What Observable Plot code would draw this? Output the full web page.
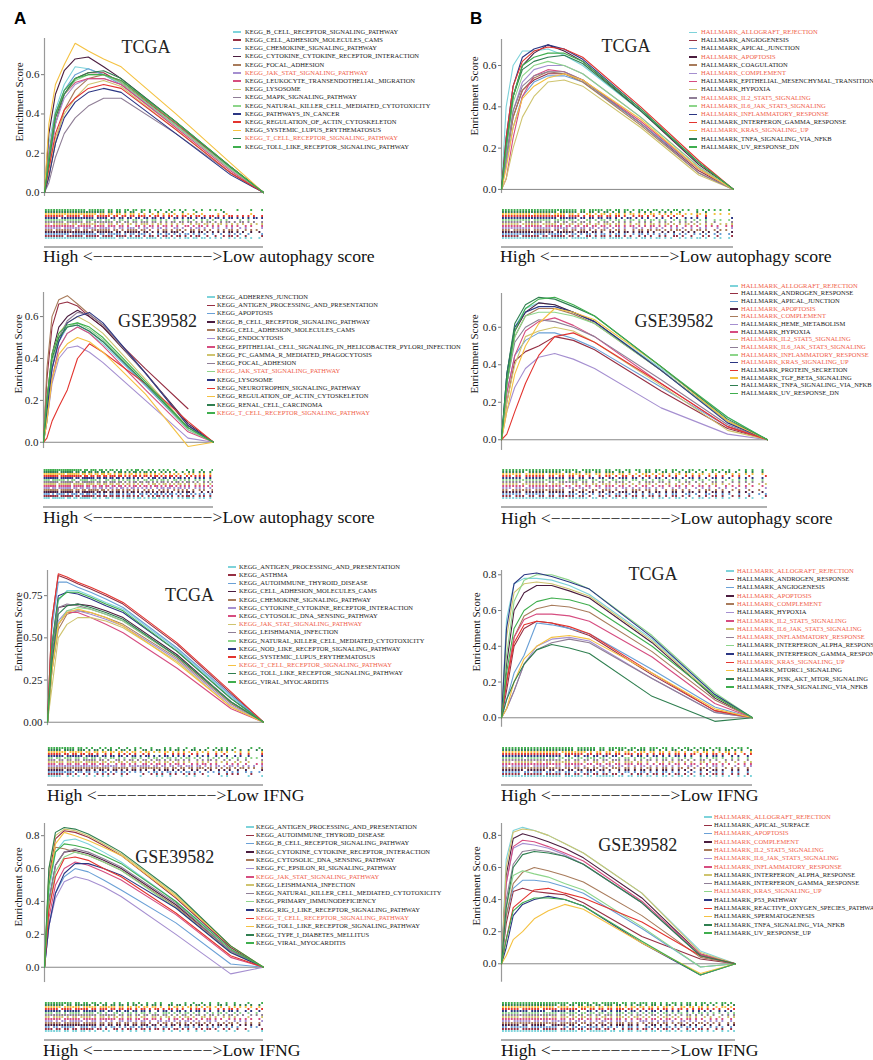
<!DOCTYPE html>
<html><head><meta charset="utf-8">
<script src="https://cdn.jsdelivr.net/npm/d3@7"></script>
<script src="https://cdn.jsdelivr.net/npm/@observablehq/plot@0.6"></script>
<style>
body{margin:0;background:#fff;}
#root{position:relative;width:873px;height:1060px;overflow:hidden;background:#fff;font-family:"Liberation Serif","Times New Roman",serif;color:#1a1a1a;}
.abs{position:absolute;white-space:nowrap;line-height:1;font-family:"Liberation Serif","Times New Roman",serif;}
</style></head><body><div id="root"></div>
<script>
// ---------- shared ----------
const xGrid = [0, .02, .05, .09, .14, .2, .27, .35, .6, .85, 1];
const colors = ["#7ED3DA","#962F43","#6AA0D6","#4B1D3F","#A87B5B","#A58FD0","#D64D80","#CFC46F","#8F7E96","#8DD58A","#2B3683","#E3342F","#F5C242","#2F7F50","#3FAE4E"];
const ticksA = [0, 0.2, 0.4, 0.6];
const ticksIfngKegg = [0, 0.25, 0.5, 0.75];
const ticksHigh = [0, 0.2, 0.4, 0.6, 0.8];
const axisLabel = "Enrichment Score";
const xLabelAuto = "High <−−−−−−−−−−−−>Low autophagy score";
const xLabelIfng = "High <−−−−−−−−−−−−>Low IFNG";
const serif = "'Liberation Serif', 'Times New Roman', serif";

// ---------- A1: TCGA KEGG autophagy ----------
const namesA1 = ["KEGG_B_CELL_RECEPTOR_SIGNALING_PATHWAY","KEGG_CELL_ADHESION_MOLECULES_CAMS","KEGG_CHEMOKINE_SIGNALING_PATHWAY","KEGG_CYTOKINE_CYTOKINE_RECEPTOR_INTERACTION","KEGG_FOCAL_ADHESION","KEGG_JAK_STAT_SIGNALING_PATHWAY","KEGG_LEUKOCYTE_TRANSENDOTHELIAL_MIGRATION","KEGG_LYSOSOME","KEGG_MAPK_SIGNALING_PATHWAY","KEGG_NATURAL_KILLER_CELL_MEDIATED_CYTOTOXICITY","KEGG_PATHWAYS_IN_CANCER","KEGG_REGULATION_OF_ACTIN_CYTOSKELETON","KEGG_SYSTEMIC_LUPUS_ERYTHEMATOSUS","KEGG_T_CELL_RECEPTOR_SIGNALING_PATHWAY","KEGG_TOLL_LIKE_RECEPTOR_SIGNALING_PATHWAY"];
const redA1 = [6, 14];
const esA1 = [
 [0,.25,.42,.55,.64,.63,.6,.56,.34,.12,0],
 [0,.15,.35,.5,.58,.61,.61,.56,.35,.13,0],
 [0,.2,.4,.52,.6,.63,.6,.55,.34,.12,0],
 [0,.3,.5,.62,.68,.69,.64,.58,.36,.13,0],
 [0,.08,.25,.42,.52,.58,.6,.57,.35,.12,0],
 [0,.15,.35,.48,.55,.58,.58,.55,.34,.12,0],
 [0,.2,.4,.5,.56,.58,.58,.55,.33,.11,0],
 [0,.12,.28,.4,.48,.55,.57,.54,.32,.1,0],
 [0,.05,.18,.3,.38,.44,.48,.48,.3,.1,0],
 [0,.18,.38,.5,.57,.6,.6,.56,.34,.12,0],
 [0,.08,.25,.38,.46,.51,.53,.51,.3,.09,0],
 [0,.12,.3,.42,.48,.53,.55,.53,.32,.1,0],
 [0,.35,.55,.65,.76,.72,.68,.64,.4,.15,0],
 [0,.15,.38,.5,.58,.61,.62,.58,.36,.13,0],
 [0,.18,.4,.52,.58,.6,.6,.57,.36,.13,0]];
const hitsA1 = ["FFFFEFDBF7AD5B6A9552","FEFDF7BD6B5AD5925A41","FFBFEDF5BA6D5AA49521","FFFFDFB7ED5BA6D55A92","EFDB7F6BDA5AD6A95A54","FDFBEF5BAD69A5A52941","FFEFBDDA6B5A9AD52A51","DFB7EDAB5D6AA5B5AA95","FEFDBFB6DDAB6D5AB5A9","FFFDEB5AD5A92A54A120","FBFFDEDB6DB5AD6B5AAD","FEFBDF6DBAD6B5AD5AA9","FFFFEDB5A9552A412010","FFFFFDB5924A21004000","FFFEFDB6DAA5524A8211"];

// ---------- B1: TCGA HALLMARK autophagy ----------
const namesB1 = ["HALLMARK_ALLOGRAFT_REJECTION","HALLMARK_ANGIOGENESIS","HALLMARK_APICAL_JUNCTION","HALLMARK_APOPTOSIS","HALLMARK_COAGULATION","HALLMARK_COMPLEMENT","HALLMARK_EPITHELIAL_MESENCHYMAL_TRANSITION","HALLMARK_HYPOXIA","HALLMARK_IL2_STAT5_SIGNALING","HALLMARK_IL6_JAK_STAT3_SIGNALING","HALLMARK_INFLAMMATORY_RESPONSE","HALLMARK_INTERFERON_GAMMA_RESPONSE","HALLMARK_KRAS_SIGNALING_UP","HALLMARK_TNFA_SIGNALING_VIA_NFKB","HALLMARK_UV_RESPONSE_DN"];
const redB1 = [1, 4, 6, 9, 10, 11, 13];
const esB1 = [
 [0,.4,.6,.67,.67,.68,.65,.6,.38,.13,0],
 [0,.15,.35,.48,.53,.56,.56,.53,.32,.09,0],
 [0,.12,.3,.45,.52,.55,.55,.52,.32,.1,0],
 [0,.2,.45,.6,.66,.7,.67,.62,.38,.12,0],
 [0,.15,.35,.48,.54,.57,.56,.52,.31,.08,0],
 [0,.15,.38,.52,.58,.6,.6,.56,.35,.11,0],
 [0,.05,.25,.45,.55,.58,.57,.53,.33,.1,0],
 [0,.05,.2,.35,.45,.52,.53,.5,.3,.07,0],
 [0,.15,.38,.5,.55,.57,.57,.53,.32,.08,0],
 [0,.2,.42,.55,.6,.62,.6,.56,.35,.11,0],
 [0,.25,.5,.64,.68,.7,.68,.63,.39,.13,0],
 [0,.25,.5,.62,.67,.69,.68,.64,.4,.14,0],
 [0,.1,.3,.44,.5,.54,.56,.53,.34,.1,0],
 [0,.22,.45,.58,.62,.64,.65,.61,.38,.13,0],
 [0,.2,.45,.6,.64,.66,.66,.62,.39,.13,0]];
const hitsB1 = ["FFFFFEFDB7DAD6A55A52","FDFB7DA6B5A9529A4521","FFDEFAD6B5A5AA952A52","FFFFDFBDA6B5A952A521","EFDFB6DAB5A5B6AD5A54","FFDFBEDB5AA6952A4A21","FEFDFB6DB5AD5AA952A5","FDFBEDB6DDAB5AD5AA95","FEFDB6DA5AA952A55241","FFDFBDA6B5AD5A952A52","FFFFEFDB6D5AA5295201","FFFFFDEB6DA5A9521200","FFDFBDA6B5AD5AAD5A52","FFFFEFDB5AA952A41200","FFFFFFDBEDB5AD5A9552"];

// ---------- A2: GSE39582 KEGG autophagy ----------
const namesA2 = ["KEGG_ADHERENS_JUNCTION","KEGG_ANTIGEN_PROCESSING_AND_PRESENTATION","KEGG_APOPTOSIS","KEGG_B_CELL_RECEPTOR_SIGNALING_PATHWAY","KEGG_CELL_ADHESION_MOLECULES_CAMS","KEGG_ENDOCYTOSIS","KEGG_EPITHELIAL_CELL_SIGNALING_IN_HELICOBACTER_PYLORI_INFECTION","KEGG_FC_GAMMA_R_MEDIATED_PHAGOCYTOSIS","KEGG_FOCAL_ADHESION","KEGG_JAK_STAT_SIGNALING_PATHWAY","KEGG_LYSOSOME","KEGG_NEUROTROPHIN_SIGNALING_PATHWAY","KEGG_REGULATION_OF_ACTIN_CYTOSKELETON","KEGG_RENAL_CELL_CARCINOMA","KEGG_T_CELL_RECEPTOR_SIGNALING_PATHWAY"];
const redA2 = [10, 15];
const esA2 = [
 [0,.1,.3,.45,.52,.55,.52,.47,.27,.07,0],
 [0,.3,.55,.66,.67,.65,.6,.55,.35,.16,null],
 [0,.15,.35,.48,.55,.56,.53,.48,.27,.06,0],
 [0,.2,.42,.55,.6,.63,.6,.55,.33,.09,0],
 [0,.35,.6,.68,.7,.66,.61,.56,.33,.08,0],
 [0,.1,.28,.4,.45,.46,.43,.38,.2,.02,0],
 [0,.12,.3,.45,.52,.55,.52,.46,.25,.05,0],
 [0,.2,.42,.52,.57,.6,.57,.52,.3,.07,0],
 [0,.1,.35,.5,.58,.62,.61,.56,.33,.08,0],
 [0,.15,.38,.5,.55,.57,.54,.49,.28,.06,0],
 [0,.15,.35,.48,.57,.6,.62,.57,.33,.08,0],
 [0,.02,.1,.17,.25,.4,.47,.43,.28,.1,0],
 [0,.1,.3,.42,.47,.5,.48,.43,.23,-.02,0],
 [0,.2,.4,.5,.55,.56,.53,.48,.28,.07,0],
 [0,.2,.42,.52,.56,.57,.55,.5,.29,.07,0]];
const hitsA2 = ["EFDB7DA6B5AD5AA95A52","FEFDBF6DB5AA56A95A52","EBD76DA9B5A6AD5A9552","FEFDBF6DB56AD5A95A25","FEFDB7DAB5A952A55251","EDFB6DB5AD6AA5B5A952","FDFBEDB6DAB5AD5AA955","FDFBEF6DB5AA5AD5A952","FEFDBF6DDAB6D5AB5A95","EFD67BA6D5A9B5A6A952","FEFDBF6DB5AA5AD5A952","FEFFDB6DDAB5AD5A9552","FFDFB6DB5AD5AA952A52","FEFDB6DA5AB5A9524A52","FFFFDBB5A95A52A41221"];

// ---------- B2: GSE39582 HALLMARK autophagy ----------
const namesB2 = ["HALLMARK_ALLOGRAFT_REJECTION","HALLMARK_ANDROGEN_RESPONSE","HALLMARK_APICAL_JUNCTION","HALLMARK_APOPTOSIS","HALLMARK_COMPLEMENT","HALLMARK_HEME_METABOLISM","HALLMARK_HYPOXIA","HALLMARK_IL2_STAT5_SIGNALING","HALLMARK_IL6_JAK_STAT3_SIGNALING","HALLMARK_INFLAMMATORY_RESPONSE","HALLMARK_KRAS_SIGNALING_UP","HALLMARK_PROTEIN_SECRETION","HALLMARK_TGF_BETA_SIGNALING","HALLMARK_TNFA_SIGNALING_VIA_NFKB","HALLMARK_UV_RESPONSE_DN"];
const redB2 = [1, 4, 5, 8, 9, 10, 11];
const esB2 = [
 [0,.35,.6,.7,.73,.72,.68,.63,.38,.12,0],
 [0,.2,.42,.47,.5,.55,.53,.48,.26,.06,0],
 [0,.25,.45,.53,.57,.57,.54,.49,.28,.07,0],
 [0,.3,.58,.68,.73,.72,.68,.63,.37,.1,0],
 [0,.3,.55,.66,.7,.7,.67,.62,.37,.1,0],
 [0,.15,.28,.38,.44,.46,.43,.38,.17,.03,0],
 [0,.25,.45,.58,.63,.65,.61,.55,.3,.07,0],
 [0,.2,.4,.55,.58,.6,.58,.52,.29,.05,0],
 [0,.3,.52,.6,.64,.63,.6,.55,.32,.08,0],
 [0,.3,.55,.66,.68,.68,.66,.62,.37,.1,0],
 [0,.35,.6,.68,.71,.71,.68,.63,.37,.09,0],
 [0,.03,.15,.3,.45,.55,.57,.52,.3,.07,0],
 [0,.15,.35,.5,.62,.7,.68,.64,.39,.1,0],
 [0,.35,.62,.72,.76,.75,.71,.66,.39,.11,0],
 [0,.3,.58,.7,.75,.76,.72,.66,.39,.12,0]];
const hitsB2 = ["FFFFEFDB6DB5AD5AA952","EEDB7DA6B5AD5A95A521","FDFB6ED5B6AD59A6A925","FDFBEDB6DDAB5AD5A952","DFBFE6DBA5DA5A96A524","EDFB6DA5AD5A952A5241","FEFFDB6DDAB5AD5A9552","FBFDE6DBAD5A6A95A925","FDFB7ED6BA5DA5A9A552","FFFFEFDB6DB5AD5A9552","FDFBEDB6DDAB5AD5A952","EDFB6DA5AD5AA952A521","FDFBEF6DDAB5AD5A9552","FEFFDB6DDA5AD5A95A52","FFFFFEFDB6DB5AD5A952"];

// ---------- A3: TCGA KEGG IFNG ----------
const namesA3 = ["KEGG_ANTIGEN_PROCESSING_AND_PRESENTATION","KEGG_ASTHMA","KEGG_AUTOIMMUNE_THYROID_DISEASE","KEGG_CELL_ADHESION_MOLECULES_CAMS","KEGG_CHEMOKINE_SIGNALING_PATHWAY","KEGG_CYTOKINE_CYTOKINE_RECEPTOR_INTERACTION","KEGG_CYTOSOLIC_DNA_SENSING_PATHWAY","KEGG_JAK_STAT_SIGNALING_PATHWAY","KEGG_LEISHMANIA_INFECTION","KEGG_NATURAL_KILLER_CELL_MEDIATED_CYTOTOXICITY","KEGG_NOD_LIKE_RECEPTOR_SIGNALING_PATHWAY","KEGG_SYSTEMIC_LUPUS_ERYTHEMATOSUS","KEGG_T_CELL_RECEPTOR_SIGNALING_PATHWAY","KEGG_TOLL_LIKE_RECEPTOR_SIGNALING_PATHWAY","KEGG_VIRAL_MYOCARDITIS"];
const redA3 = [8, 13];
const esA3 = [
 [0,.45,.72,.78,.78,.75,.71,.67,.43,.15,0],
 [0,.6,.87,.85,.82,.79,.75,.7,.46,.17,0],
 [0,.55,.83,.83,.8,.77,.73,.68,.44,.16,0],
 [0,.4,.68,.69,.7,.69,.66,.62,.4,.12,0],
 [0,.3,.55,.64,.66,.65,.62,.58,.38,.11,0],
 [0,.35,.6,.66,.66,.64,.61,.57,.37,.1,0],
 [0,.3,.58,.65,.65,.62,.58,.53,.32,.08,0],
 [0,.2,.5,.58,.62,.62,.6,.56,.36,.09,0],
 [0,.4,.68,.7,.69,.67,.64,.6,.39,.12,0],
 [0,.3,.58,.66,.68,.67,.64,.6,.39,.12,0],
 [0,.45,.75,.77,.76,.73,.69,.65,.42,.14,0],
 [0,.6,.88,.86,.83,.8,.76,.71,.47,.18,0],
 [0,.3,.58,.65,.67,.65,.62,.57,.35,.09,0],
 [0,.35,.64,.69,.7,.68,.65,.61,.39,.12,0],
 [0,.45,.73,.77,.77,.74,.7,.66,.42,.14,0]];
const hitsA3 = ["F9524A1020A41210A021","FDA52A9412A52A412A10","FFDB6D5AA5AD5A952A52","FDBB5AD5A95AA5295241","FFFFFEFDBFDB6DDAB5A9","FFFFEFDBFDB6DDAB5AA9","EDB6DA5A9AD5A56A2A45","FDFBEDB5AD5AA952A521","EDB7DA6B5AD5A95A5241","DBB6D5A9A5AD5A952A54","FDFBEDB5AD5AA952A521","FB6DA52A9412A5124121","FEFB6DB5AD5AA952A521","FBDD6B5A9AD5A6A5A925","FFDA9524A2149212A412"];

// ---------- B3: TCGA HALLMARK IFNG ----------
const namesB3 = ["HALLMARK_ALLOGRAFT_REJECTION","HALLMARK_ANDROGEN_RESPONSE","HALLMARK_ANGIOGENESIS","HALLMARK_APOPTOSIS","HALLMARK_COMPLEMENT","HALLMARK_HYPOXIA","HALLMARK_IL2_STAT5_SIGNALING","HALLMARK_IL6_JAK_STAT3_SIGNALING","HALLMARK_INFLAMMATORY_RESPONSE","HALLMARK_INTERFERON_ALPHA_RESPONSE","HALLMARK_INTERFERON_GAMMA_RESPONSE","HALLMARK_KRAS_SIGNALING_UP","HALLMARK_MTORC1_SIGNALING","HALLMARK_PI3K_AKT_MTOR_SIGNALING","HALLMARK_TNFA_SIGNALING_VIA_NFKB"];
const redB3 = [1, 4, 5, 7, 8, 9, 12];
const esB3 = [
 [0,.55,.75,.78,.78,.77,.74,.69,.44,.13,0],
 [0,.15,.4,.5,.54,.53,.5,.46,.24,.04,0],
 [0,.1,.25,.35,.53,.52,.5,.47,.27,.06,0],
 [0,.3,.6,.7,.74,.74,.71,.67,.42,.11,0],
 [0,.2,.45,.57,.61,.63,.62,.59,.37,.1,0],
 [0,.05,.15,.3,.4,.44,.45,.43,.22,.03,0],
 [0,.2,.45,.55,.58,.58,.57,.54,.34,.08,0],
 [0,.45,.7,.75,.76,.75,.72,.68,.43,.12,0],
 [0,.05,.15,.3,.38,.42,.44,.42,.22,.03,0],
 [0,.35,.65,.77,.8,.8,.77,.72,.46,.14,0],
 [0,.5,.75,.8,.81,.79,.76,.72,.45,.13,0],
 [0,.2,.42,.52,.54,.53,.51,.47,.25,.04,0],
 [0,.05,.2,.33,.4,.45,.46,.44,.25,.05,0],
 [0,.1,.2,.3,.38,.41,.39,.36,.12,-.02,0],
 [0,.25,.5,.6,.65,.67,.66,.63,.4,.12,0]];
const hitsB3 = ["FFFFEFDBF6DB5AD5AA95","FDFBEDB6DA5AD5A95A52","FDBB6D5AA5AD5A952A52","FEFDB6DDA5AD5AA95A52","FFFFEDB6DDAB5AD5A952","DFBE6DA5B6AD5A9A5A25","FFFFEFDB6DDAB5AD5A95","EFDB7DA6B5DA56A9A525","FFFFEDB6DDAB5AD5A952","FEFDB6DDA5AD5AA95A52","FFFFEDB6DA5AD5A95A52","FFFFEFDB6DDAB5AD5AA5","FFFFDFEB6DADB5A6D5A9","FFFFFEFDB6DDAB5AD5A9","FFFFFEFDBF6DDAB5AD5A"];

// ---------- A4: GSE39582 KEGG IFNG ----------
const namesA4 = ["KEGG_ANTIGEN_PROCESSING_AND_PRESENTATION","KEGG_AUTOIMMUNE_THYROID_DISEASE","KEGG_B_CELL_RECEPTOR_SIGNALING_PATHWAY","KEGG_CYTOKINE_CYTOKINE_RECEPTOR_INTERACTION","KEGG_CYTOSOLIC_DNA_SENSING_PATHWAY","KEGG_FC_EPSILON_RI_SIGNALING_PATHWAY","KEGG_JAK_STAT_SIGNALING_PATHWAY","KEGG_LEISHMANIA_INFECTION","KEGG_NATURAL_KILLER_CELL_MEDIATED_CYTOTOXICITY","KEGG_PRIMARY_IMMUNODEFICIENCY","KEGG_RIG_I_LIKE_RECEPTOR_SIGNALING_PATHWAY","KEGG_T_CELL_RECEPTOR_SIGNALING_PATHWAY","KEGG_TOLL_LIKE_RECEPTOR_SIGNALING_PATHWAY","KEGG_TYPE_I_DIABETES_MELLITUS","KEGG_VIRAL_MYOCARDITIS"];
const redA4 = [7, 12];
const esA4 = [
 [0,.45,.7,.77,.78,.75,.7,.64,.4,.12,0],
 [0,.55,.78,.83,.82,.79,.74,.68,.42,.12,0],
 [0,.25,.45,.55,.6,.58,.53,.47,.27,.02,0],
 [0,.4,.62,.7,.71,.69,.65,.6,.38,.1,0],
 [0,.55,.73,.72,.7,.68,.64,.59,.37,.1,0],
 [0,.25,.42,.52,.55,.53,.49,.43,.2,-.04,0],
 [0,.3,.5,.6,.64,.62,.58,.53,.32,.06,0],
 [0,.6,.8,.84,.83,.8,.75,.69,.44,.13,0],
 [0,.4,.62,.7,.72,.7,.66,.61,.39,.1,0],
 [0,.35,.58,.67,.7,.68,.64,.59,.36,.09,0],
 [0,.25,.45,.57,.63,.63,.6,.56,.36,.09,0],
 [0,.35,.55,.66,.67,.65,.6,.55,.33,.07,0],
 [0,.5,.75,.82,.8,.77,.73,.68,.43,.13,0],
 [0,.6,.82,.85,.84,.81,.76,.7,.45,.13,0],
 [0,.5,.7,.75,.74,.72,.68,.63,.4,.11,0]];
const hitsA4 = ["FDB6A5294A1249212421","EDB7DA6B5AD5A95A5241","DBE76AD5B69A5A952A14","FFFFEDB6DDAB5AD5A952","FDFBEDB6DA5AD5A95A52","EB7D6A9B5A6D5A9A2541","FDFBEFDB6DA5AD5A9552","DEB7AD6B59AD5A6A5421","FFFFEFDB6DDAB5AD5A95","ED7BDA6B5A9D5A95A524","FDFBEDB6DA5AD5A95A52","FBDF6EDB5AD6A5A95A25","FDFBEFDB6DA5AD5A9552","FEDFB6DAD5A6D5A9A552","FFDB6A52A4A212492421"];

// ---------- B4: GSE39582 HALLMARK IFNG ----------
const namesB4 = ["HALLMARK_ALLOGRAFT_REJECTION","HALLMARK_APICAL_SURFACE","HALLMARK_APOPTOSIS","HALLMARK_COMPLEMENT","HALLMARK_IL2_STAT5_SIGNALING","HALLMARK_IL6_JAK_STAT3_SIGNALING","HALLMARK_INFLAMMATORY_RESPONSE","HALLMARK_INTERFERON_ALPHA_RESPONSE","HALLMARK_INTERFERON_GAMMA_RESPONSE","HALLMARK_KRAS_SIGNALING_UP","HALLMARK_P53_PATHWAY","HALLMARK_REACTIVE_OXYGEN_SPECIES_PATHWAY","HALLMARK_SPERMATOGENESIS","HALLMARK_TNFA_SIGNALING_VIA_NFKB","HALLMARK_UV_RESPONSE_UP"];
const redB4 = [1, 3, 4, 5, 6, 7, 10];
const esB4 = [
 [0,.65,.83,.85,.83,.8,.75,.69,.44,.08,0],
 [0,.25,.45,.47,.45,.44,.43,.38,.17,.03,0],
 [0,.3,.47,.52,.52,.51,.48,.44,.22,-.02,0],
 [0,.55,.78,.81,.79,.76,.72,.66,.41,.06,0],
 [0,.3,.5,.57,.6,.58,.55,.51,.3,.04,0],
 [0,.5,.72,.75,.74,.72,.68,.62,.38,.05,0],
 [0,.5,.73,.77,.76,.73,.69,.64,.39,.06,0],
 [0,.6,.82,.84,.83,.8,.75,.69,.44,.07,0],
 [0,.4,.62,.7,.71,.7,.67,.62,.38,.05,0],
 [0,.35,.55,.58,.56,.54,.5,.46,.23,-.02,0],
 [0,.1,.3,.37,.4,.42,.4,.36,.13,-.07,0],
 [0,.15,.35,.4,.46,.47,.44,.41,.26,.05,0],
 [0,.05,.15,.2,.28,.33,.37,.34,.13,-.06,0],
 [0,.35,.6,.68,.7,.69,.67,.62,.38,.05,0],
 [0,.15,.33,.38,.41,.41,.4,.36,.14,-.07,0]];
const hitsB4 = ["FFFFEFDBF6DB5AD5AA95","FDFBEDB6DA5AD5A95A52","DFBFE6DBAD5A6AD5A952","FDBE7DA6B5DA5A96A525","FFFFEFDB6DDAB5AD5AA5","EFDB7D6AB5A9D5A6A552","FFFFEDB6DDAB5AD5A952","FDFB6EDAB5D6A5A9A525","FFFFEDB6DDAB5AD5AA95","FDFBEFDB6DDAB5AD5AA5","DFBE7DA6B5AD5AA9552A","FDFBEFDB6DDAB5AD5AA5","FFFFDEBF6DADB5A6DA5A","FFFFEDB6DDAB5AD5AA95","FFFFFEFDBF6DDAB5AD5A"];

// ---------- layout ----------
const root = document.getElementById("root");
function addDiv(text, css) {
  const d = document.createElement("div");
  d.className = "abs";
  d.textContent = text;
  Object.assign(d.style, css);
  root.appendChild(d);
  return d;
}

function drawPanel(p) {
  const ml = 40, mr = 4, mt = 4, mb = 4;
  const pw = p.right - p.axisX;
  const topPx = p.y0 - p.yTop * p.unit, botPx = p.y0 - p.yBot * p.unit;
  const ph = botPx - topPx;
  const data = [];
  p.es.forEach((vals, s) => vals.forEach((v, j) => data.push({x: xGrid[j], y: v, s})));
  const chart = Plot.plot({
    width: ml + pw + mr, height: mt + ph + mb,
    marginLeft: ml, marginRight: mr, marginTop: mt, marginBottom: mb,
    x: {domain: [0, 1], axis: null},
    y: {domain: [p.yBot, p.yTop], axis: null},
    color: {type: "identity"},
    style: {background: "transparent", fontFamily: serif, fontSize: "11px", color: "#1a1a1a", overflow: "visible"},
    marks: [
      Plot.axisY({ticks: p.ticks, tickFormat: d3.format(p.fmt), tickSize: 3, tickPadding: 2, label: null, stroke: "#777", fontSize: 11, fontFamily: serif}),
      Plot.ruleX([0], {y1: p.yBot, y2: p.yTop, stroke: "#999", strokeWidth: 1.2}),
      Plot.ruleY([0], {x1: 0, x2: 1, stroke: "#888", strokeWidth: 1}),
      Plot.line(data, {x: "x", y: "y", z: "s", stroke: d => colors[d.s], strokeWidth: 1.1})
    ]
  });
  Object.assign(chart.style, {position: "absolute", left: (p.axisX - ml) + "px", top: (topPx - mt) + "px"});
  root.appendChild(chart);

  // rug: each hex digit marks 4 adjacent slots of 80 across the ranked list
  const rug = [];
  p.hits.forEach((str, s) => [...str].forEach((c, b) => {
    const v = parseInt(c, 16);
    for (let i = 0; i < 4; i++) if (v & (8 >> i)) rug.push({x: (b * 4 + i + 0.5) / (str.length * 4), s});
  }));
  const rugH = p.rugBot - p.rugTop;
  const rugPlot = Plot.plot({
    width: pw, height: rugH, margin: 0,
    x: {domain: [0, 1], axis: null},
    y: {type: "band", domain: d3.range(14, -1, -1), axis: null, padding: 0},
    color: {type: "identity"},
    style: {background: "transparent"},
    marks: [Plot.tickX(rug, {x: "x", y: "s", stroke: d => colors[d.s], strokeWidth: 1.9})]
  });
  Object.assign(rugPlot.style, {position: "absolute", left: p.axisX + "px", top: p.rugTop + "px"});
  root.appendChild(rugPlot);
  const base = document.createElement("div");
  Object.assign(base.style, {position: "absolute", left: p.axisX + "px", top: p.rugBot + "px", width: pw + "px", height: "2px", background: "#b0b0b0"});
  root.appendChild(base);

  // texts
  addDiv(p.title, {left: p.titleX + "px", top: (p.titleBase - 0.8375 * 18) + "px", fontSize: "18px", transform: "translateX(-50%)", color: "#222"});
  addDiv(p.xLabel, {left: p.xlX + "px", top: (p.xlBase - 0.8375 * 17.7) + "px", fontSize: "17.7px", color: "#111"});
  addDiv(axisLabel, {left: p.ylX + "px", top: p.ylY + "px", fontSize: "11px", transform: "translate(-50%,-50%) rotate(-90deg)", color: "#1a1a1a"});

  // legend
  p.names.forEach((name, k) => {
    const cy = p.legY + k * p.legDy;
    const sw = document.createElement("div");
    Object.assign(sw.style, {position: "absolute", left: p.legX + "px", top: (cy - 0.75) + "px", width: "7.5px", height: "1.5px", background: colors[k]});
    root.appendChild(sw);
    addDiv(name, {left: p.legTx + "px", top: (cy - 3.3) + "px", fontSize: "6.5px", color: p.red.includes(k + 1) ? "#F0604A" : "#222"});
  });
}

const panels = [
  {es: esA1, hits: hitsA1, names: namesA1, red: redA1, title: "TCGA", xLabel: xLabelAuto, ticks: ticksA, fmt: ".1f",
   axisX: 44, right: 263, y0: 192, unit: 196.5, yTop: 0.784, yBot: -0.02, rugTop: 202, rugBot: 246,
   titleX: 146, titleBase: 53.5, xlX: 43, xlBase: 263.3, ylX: 19, ylY: 102, legX: 233, legTx: 245, legY: 32, legDy: 8.2},
  {es: esB1, hits: hitsB1, names: namesB1, red: redB1, title: "TCGA", xLabel: xLabelAuto, ticks: ticksA, fmt: ".1f",
   axisX: 501, right: 733, y0: 189, unit: 206.5, yTop: 0.726, yBot: -0.02, rugTop: 202, rugBot: 246,
   titleX: 626, titleBase: 52.5, xlX: 500, xlBase: 263.3, ylX: 474, ylY: 96, legX: 689, legTx: 701, legY: 32.3, legDy: 8.2},
  {es: esA2, hits: hitsA2, names: namesA2, red: redA2, title: "GSE39582", xLabel: xLabelAuto, ticks: ticksA, fmt: ".1f",
   axisX: 43, right: 213, y0: 441.7, unit: 209.5, yTop: 0.715, yBot: -0.03, rugTop: 462, rugBot: 506,
   titleX: 157.5, titleBase: 326.7, xlX: 43, xlBase: 524, ylX: 18, ylY: 354, legX: 207, legTx: 217, legY: 297, legDy: 8.3},
  {es: esB2, hits: hitsB2, names: namesB2, red: redB2, title: "GSE39582", xLabel: xLabelAuto, ticks: ticksA, fmt: ".1f",
   axisX: 501, right: 767, y0: 439.3, unit: 187.5, yTop: 0.78, yBot: -0.057, rugTop: 462, rugBot: 506,
   titleX: 674, titleBase: 327.3, xlX: 501, xlBase: 525, ylX: 474, ylY: 354, legX: 730, legTx: 741, legY: 286, legDy: 7.67},
  {es: esA3, hits: hitsA3, names: namesA3, red: redA3, title: "TCGA", xLabel: xLabelIfng, ticks: ticksIfngKegg, fmt: ".2f",
   axisX: 47, right: 263, y0: 721.7, unit: 168.8, yTop: 0.899, yBot: -0.02, rugTop: 740, rugBot: 784,
   titleX: 189.5, titleBase: 601, xlX: 47, xlBase: 801.7, ylX: 18, ylY: 632, legX: 228, legTx: 239, legY: 567, legDy: 8.2},
  {es: esB3, hits: hitsB3, names: namesB3, red: redB3, title: "TCGA", xLabel: xLabelIfng, ticks: ticksHigh, fmt: ".1f",
   axisX: 501, right: 752, y0: 717.3, unit: 178.75, yTop: 0.824, yBot: -0.053, rugTop: 740, rugBot: 784,
   titleX: 653, titleBase: 580, xlX: 501, xlBase: 801.7, ylX: 476, ylY: 632, legX: 726, legTx: 737, legY: 571, legDy: 8.3},
  {es: esA4, hits: hitsA4, names: namesA4, red: redA4, title: "GSE39582", xLabel: xLabelIfng, ticks: ticksHigh, fmt: ".1f",
   axisX: 44, right: 263, y0: 966.7, unit: 164.5, yTop: 0.874, yBot: -0.093, rugTop: 995, rugBot: 1039,
   titleX: 174.7, titleBase: 863.3, xlX: 43, xlBase: 1056.7, ylX: 18, ylY: 887, legX: 246, legTx: 256, legY: 827, legDy: 8.3},
  {es: esB4, hits: hitsB4, names: namesB4, red: redB4, title: "GSE39582", xLabel: xLabelIfng, ticks: ticksHigh, fmt: ".1f",
   axisX: 501, right: 735, y0: 963.3, unit: 160.5, yTop: 0.874, yBot: -0.115, rugTop: 995, rugBot: 1039,
   titleX: 637.8, titleBase: 850.7, xlX: 501, xlBase: 1056.7, ylX: 476, ylY: 886, legX: 704, legTx: 714, legY: 817, legDy: 8.3}
];
panels.forEach(drawPanel);

// panel letters
addDiv("A", {left: "14px", top: (24 - 0.8465 * 17) + "px", fontSize: "17px", fontWeight: "bold", fontFamily: "'Liberation Sans', Arial, sans-serif", color: "#000"});
addDiv("B", {left: "470px", top: (24 - 0.8465 * 17) + "px", fontSize: "17px", fontWeight: "bold", fontFamily: "'Liberation Sans', Arial, sans-serif", color: "#000"});
</script></body></html>
